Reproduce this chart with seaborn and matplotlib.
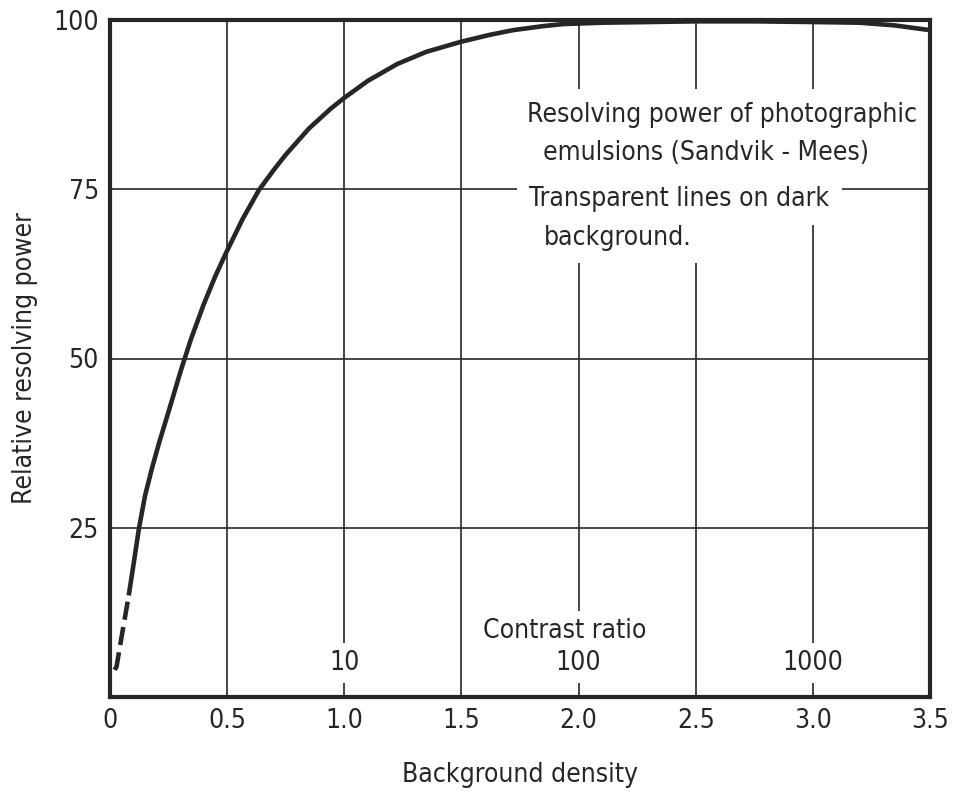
import matplotlib
matplotlib.use("Agg")
import matplotlib.pyplot as plt
import seaborn as sns
import pandas as pd

# ---- data ----
density_solid = [0.08, 0.10, 0.124, 0.15, 0.18, 0.21, 0.253, 0.303, 0.345, 0.40, 0.45, 0.494,
                 0.566, 0.636, 0.70, 0.75, 0.85, 0.942, 1.0, 1.1, 1.226, 1.35, 1.5,
                 1.62, 1.72, 1.85, 1.935, 2.1, 2.3, 2.5, 2.75, 3.0, 3.2, 3.35, 3.5]
power_solid = [15.0, 19.5, 25.0, 29.8, 33.9, 37.6, 42.5, 48.3, 52.8, 58.0, 62.2, 65.5,
               70.6, 74.9, 77.9, 80.1, 84.0, 86.9, 88.5, 91.0, 93.5, 95.3, 96.8,
               97.8, 98.5, 99.1, 99.4, 99.6, 99.7, 99.8, 99.8, 99.7, 99.6, 99.2, 98.5]
density_dashed = [0.02, 0.028, 0.05, 0.08]
power_dashed = [4.0, 4.5, 9.0, 15.0]

x_ticks = [0, 0.5, 1.0, 1.5, 2.0, 2.5, 3.0, 3.5]
x_ticklabels = ["0", "0.5", "1.0", "1.5", "2.0", "2.5", "3.0", "3.5"]
y_ticks = [0, 25, 50, 75, 100]
y_ticklabels = ["", "25", "50", "75", "100"]
contrast_pos = [1.0, 2.0, 3.0]
contrast_labels = ["10", "100", "1000"]

note_lines = ["Resolving power of photographic", "emulsions (Sandvik - Mees)",
              "Transparent lines on dark", "background."]

INK = "#262626"
FS = 19

sns.set_style("white")
plt.rcParams["font.family"] = ["DejaVu Sans"]
plt.rcParams["font.stretch"] = "condensed"

fig = plt.figure(figsize=(9.68, 7.93), dpi=100)
ax = fig.add_axes([110 / 968, 1 - 697 / 793, (930 - 110) / 968, (697 - 20) / 793])

df_solid = pd.DataFrame({"density": density_solid, "power": power_solid})
df_dash = pd.DataFrame({"density": density_dashed, "power": power_dashed})

sns.lineplot(data=df_solid, x="density", y="power", ax=ax, color=INK,
             linewidth=3.3, sort=False, zorder=4, solid_capstyle="butt",
             solid_joinstyle="round")
sns.lineplot(data=df_dash, x="density", y="power", ax=ax, color=INK,
             linewidth=3.3, sort=False, zorder=4, dashes=False,
             linestyle=(0, (4.0, 1.6)))

ax.set_xlim(0, 3.5)
ax.set_ylim(0, 100)
ax.set_xticks(x_ticks)
ax.set_xticklabels(x_ticklabels)
ax.set_yticks(y_ticks)
ax.set_yticklabels(y_ticklabels)
ax.tick_params(axis="both", length=0, labelsize=FS, colors=INK)
ax.tick_params(axis="x", pad=8)
ax.tick_params(axis="y", pad=8)

ax.grid(True, color=INK, linewidth=1.2, zorder=1)
ax.set_axisbelow(True)
for s in ax.spines.values():
    s.set_color(INK)
    s.set_linewidth(3.0)
    s.set_zorder(5)

ax.set_xlabel("Background density", fontsize=FS, color=INK, va="center")
ax.set_ylabel("Relative resolving power", fontsize=FS, color=INK, va="center")
ax.xaxis.set_label_coords(0.5, -(775 - 697) / 677)
ax.yaxis.set_label_coords((25 - 110) / 820, 0.5)

box = dict(facecolor="white", edgecolor="none", pad=9)
# annotation lines (white boxes interrupt the grid)
note_x = [1.78, 1.85, 1.79, 1.85]
note_y = [86.0, 80.3, 73.5, 67.8]
for tx, ty, t in zip(note_x, note_y, note_lines):
    ax.text(tx, ty, t, fontsize=FS, color=INK, ha="left", va="center",
            bbox=box, zorder=3)

ax.text(1.94, 9.8, "Contrast ratio", fontsize=FS, color=INK, ha="center",
        va="center", bbox=dict(facecolor="white", edgecolor="none", pad=5), zorder=3)
for cx, cl in zip(contrast_pos, contrast_labels):
    ax.text(cx, 5.0, cl, fontsize=FS, color=INK, ha="center", va="center",
            bbox=dict(facecolor="white", edgecolor="none", pad=5), zorder=3)

fig.savefig("out.png", dpi=100, facecolor="white")
